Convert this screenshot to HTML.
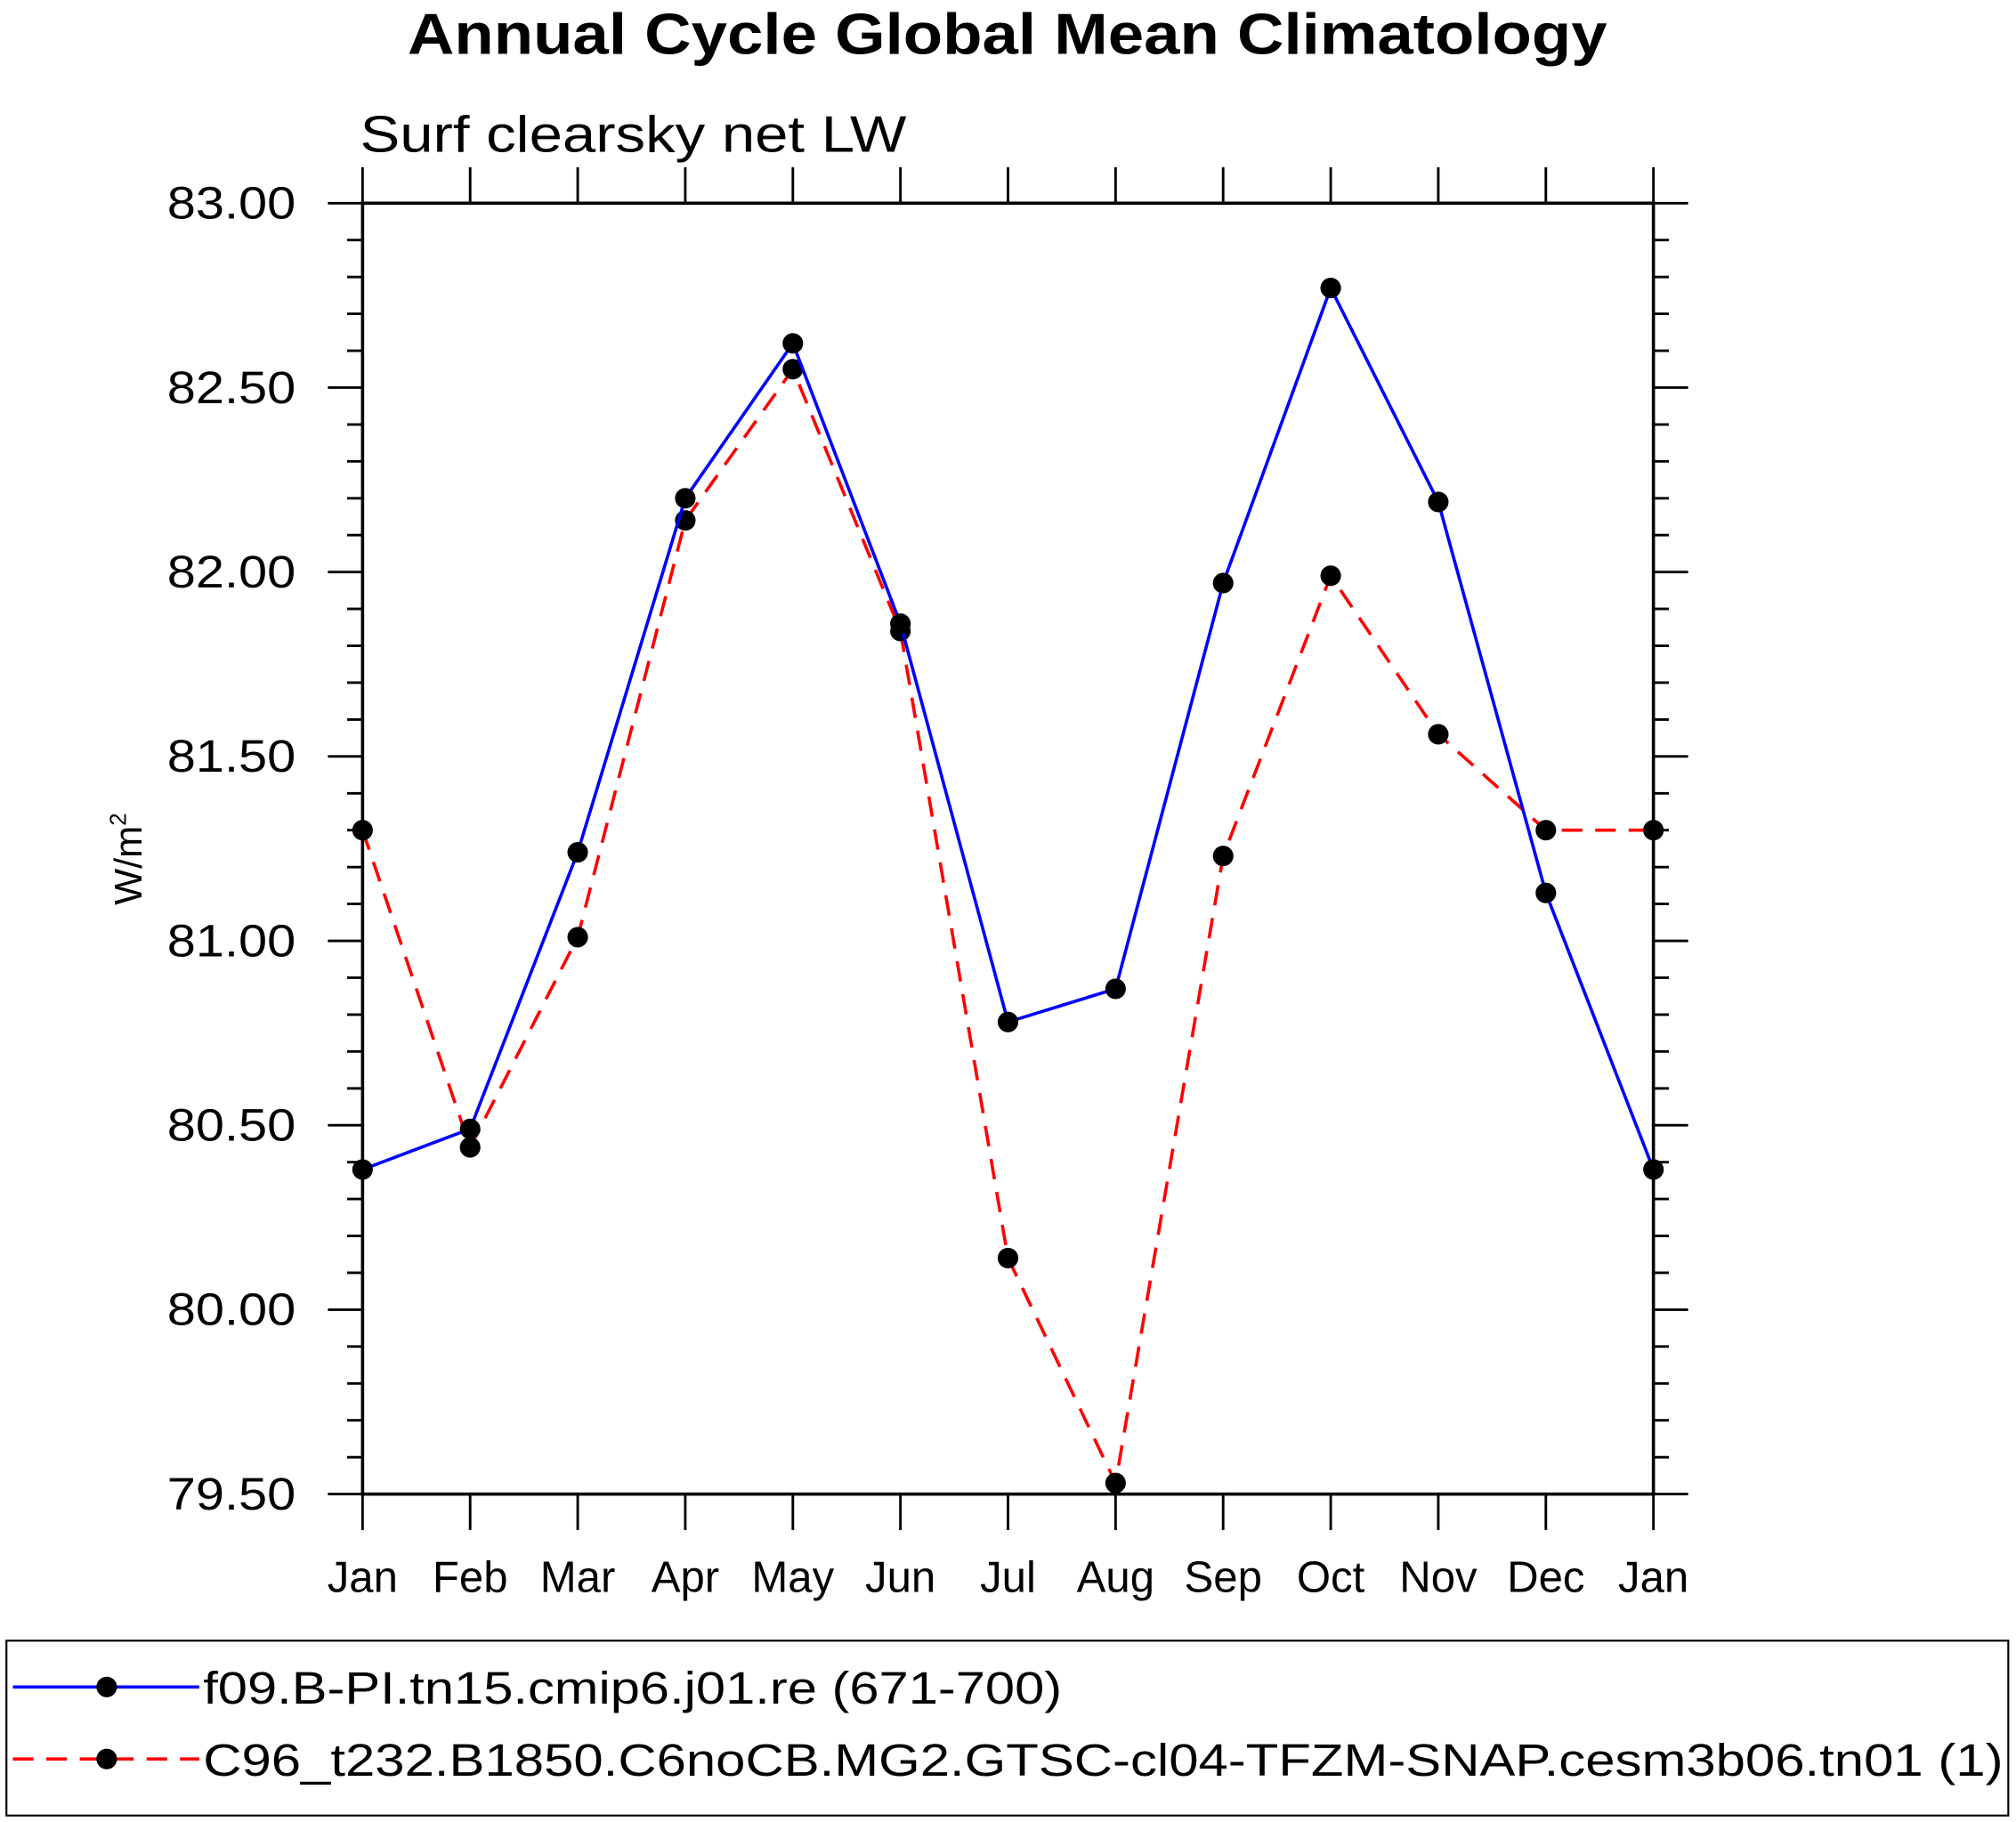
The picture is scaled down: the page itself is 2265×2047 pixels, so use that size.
<!DOCTYPE html>
<html><head><meta charset="utf-8"><style>
html,body{margin:0;padding:0;background:#fff;}
svg{display:block;font-family:"Liberation Sans",Helvetica,Arial,sans-serif;}
</style></head><body>
<svg id="chart" width="2265" height="2047" viewBox="0 0 1568 1417" xmlns="http://www.w3.org/2000/svg">
<rect width="1568" height="1417" fill="#fff"/>
<text x="317" y="42" font-size="45" font-weight="bold" textLength="933" lengthAdjust="spacingAndGlyphs">Annual Cycle Global Mean Climatology</text>
<text x="280" y="118" font-size="40" textLength="425" lengthAdjust="spacingAndGlyphs">Surf clearsky net LW</text>
<text transform="translate(110,668) rotate(-90)" text-anchor="middle" font-size="30">W/m<tspan dy="-12" font-size="18">2</tspan></text>
<g id="axes"></g>
<g id="series"></g>
<g>
<rect x="5" y="1276" width="1557" height="136" fill="none" stroke="#000" stroke-width="1.5"/>
<g>
<line x1="10" y1="1312" x2="155" y2="1312" stroke="#0000ff" stroke-width="2.5"/>
<circle cx="83" cy="1312" r="8" fill="#000"/>
<text x="158" y="1325" font-size="35" textLength="668" lengthAdjust="spacingAndGlyphs">f09.B-PI.tn15.cmip6.j01.re (671-700)</text>
</g>
<g>
<line x1="10" y1="1368" x2="155" y2="1368" stroke="#ff0000" stroke-width="2.5" stroke-dasharray="16,10"/>
<circle cx="83" cy="1368" r="8" fill="#000"/>
<text x="158" y="1381" font-size="35" textLength="1400" lengthAdjust="spacingAndGlyphs">C96_t232.B1850.C6noCB.MG2.GTSC-cl04-TFZM-SNAP.cesm3b06.tn01 (1)</text>
</g>
</g>
</svg>
<script>
const months = ["Jan","Feb","Mar","Apr","May","Jun","Jul","Aug","Sep","Oct","Nov","Dec","Jan"];
const blueValues = [80.38,80.49,81.24,82.20,82.62,81.86,80.78,80.87,81.97,82.77,82.19,81.13,80.38];
const redValues = [81.30,80.44,81.01,82.14,82.55,81.84,80.14,79.53,81.23,81.99,81.56,81.30,81.30];
const yTickLabels = ["79.50","80.00","80.50","81.00","81.50","82.00","82.50","83.00"];
const yMin = 79.5, yMax = 83.0;

const L=282,R=1286,T=158,B=1162;
const NS="http://www.w3.org/2000/svg";
function xs(i){return L+(R-L)*i/(months.length-1);}
function ys(v){return B-(B-T)*(v-yMin)/(yMax-yMin);}
function mk(tag,attrs,parent){const e=document.createElementNS(NS,tag);for(const k in attrs)e.setAttribute(k,attrs[k]);parent.appendChild(e);return e;}
const ax=document.getElementById('axes');
const frame=mk('rect',{x:L,y:T,width:R-L,height:B-T,fill:'none',stroke:'#000','stroke-width':2.5},ax);


for(let k=0;k<=35;k++){
  const v=yMin+k*0.1, y=ys(v), major=(k%5===0), len=major?27:12;
  const t1=mk('line',{x1:L-len,x2:L,y1:y,y2:y,stroke:'#000','stroke-width':2},ax);
  
  
  const t2=mk('line',{x1:R,x2:R+len,y1:y,y2:y,stroke:'#000','stroke-width':2},ax);
  
  
}
yTickLabels.forEach((lab)=>{
  const t=mk('text',{x:130,y:ys(parseFloat(lab))+12,'font-size':35,textLength:100,lengthAdjust:'spacingAndGlyphs'},ax);
  t.textContent=lab;
  
  
});
months.forEach((m,i)=>{
  const x=xs(i);
  const a=mk('line',{x1:x,x2:x,y1:T-28,y2:T,stroke:'#000','stroke-width':2},ax);
  
  
  const b=mk('line',{x1:x,x2:x,y1:B,y2:B+28,stroke:'#000','stroke-width':2},ax);
  
  
  const t=mk('text',{x:x,y:1238,'text-anchor':'middle','font-size':34},ax);
  t.textContent=m;
  
  
});
const sg=document.getElementById('series');
function drawSeries(vals,color,dash,name){
  const pts=vals.map((v,i)=>xs(i)+','+ys(v)).join(' ');
  const pl=mk('polyline',{points:pts,fill:'none',stroke:color,'stroke-width':2.5},sg);
  if(dash)pl.setAttribute('stroke-dasharray',dash);
  
  
  vals.forEach((v,i)=>{
    const c=mk('circle',{cx:xs(i),cy:ys(v),r:8,fill:'#000'},sg);
    
    
  });
}
drawSeries(redValues,'#ff0000','16,10','red-series');
drawSeries(blueValues,'#0000ff',null,'blue-series');
</script>
</body></html>
